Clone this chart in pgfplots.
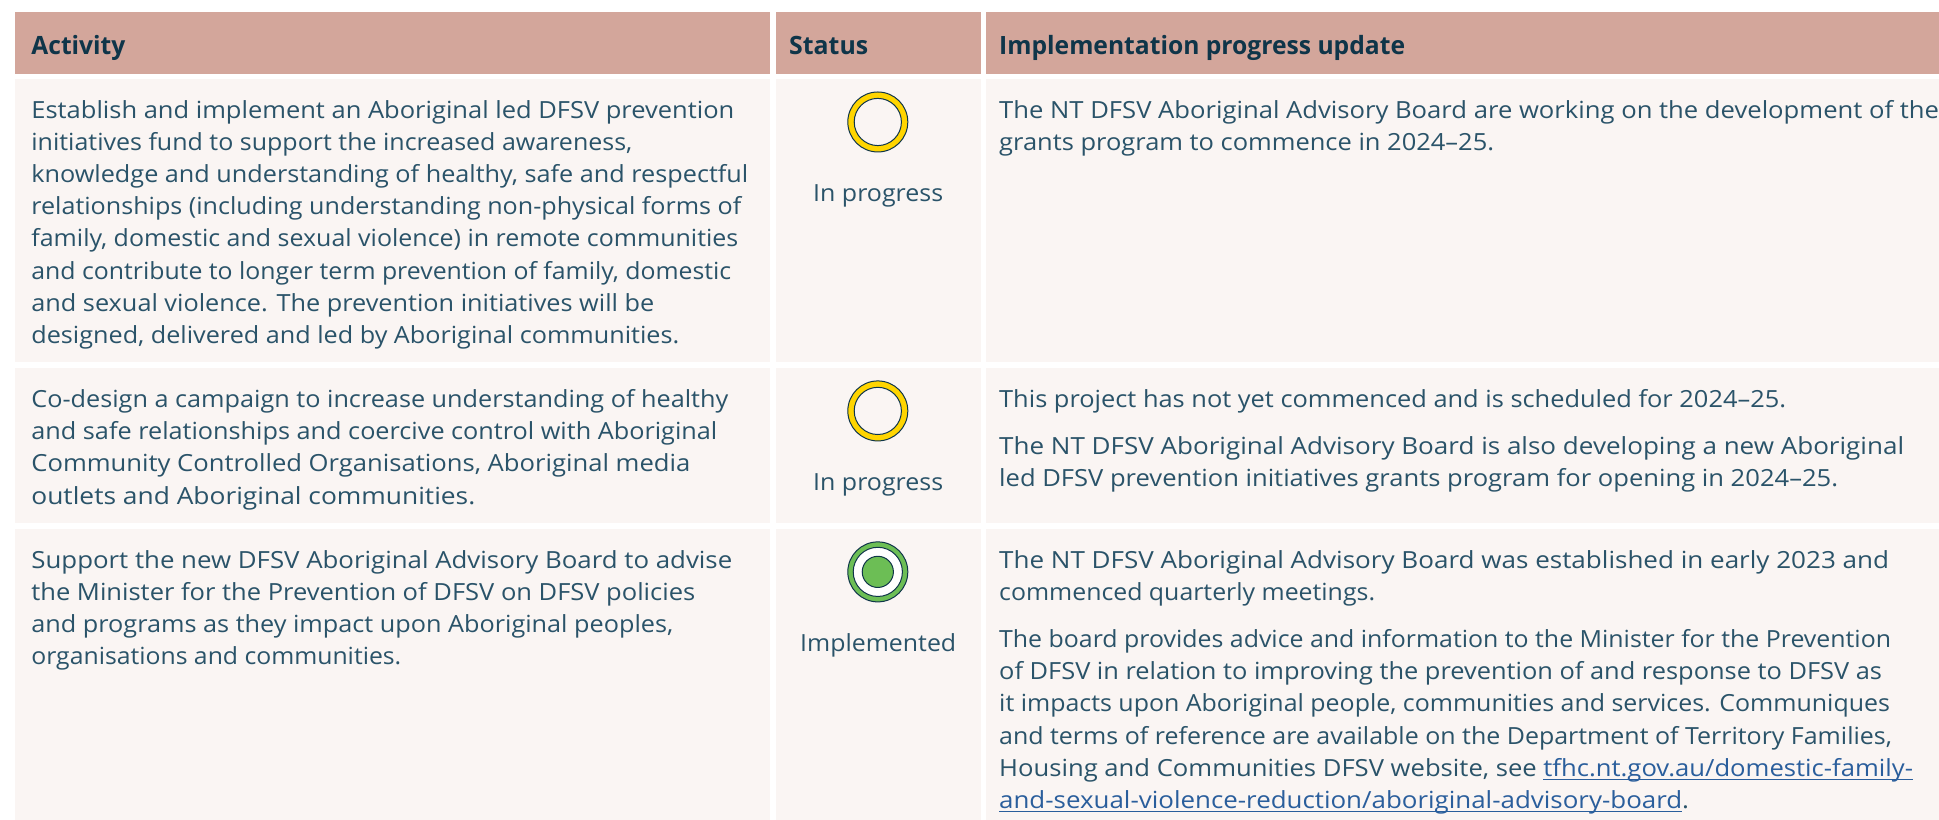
\documentclass[border=0pt]{standalone}
\usepackage{pgfplots}
\pgfplotsset{compat=1.18}
\usepackage{graphicx}
\usepackage{fontspec}
\setmainfont{Open Sans}
\definecolor{hdr}{HTML}{D3A69B}
\definecolor{rowbg}{HTML}{FAF5F3}
\definecolor{txt}{HTML}{2A5369}
\definecolor{hdrtxt}{HTML}{0F3549}
\definecolor{lnk}{HTML}{2A5E9C}
\definecolor{yel}{HTML}{FFD500}
\definecolor{grn}{HTML}{6CBE55}
\newcommand{\tl}[4]{\node[anchor=base west,inner sep=0pt,text=txt,font=\fontsize{11.8}{14}\selectfont] at (axis cs:#1,#2+1) {\resizebox{\dimexpr #3pt/2-#1pt/2\relax}{\height}{#4}};}
\newcommand{\hl}[4]{\node[anchor=base west,inner sep=0pt,text=hdrtxt,font=\fontsize{12.6}{14}\selectfont\bfseries] at (axis cs:#1,#2+1) {\resizebox{\dimexpr #3pt/2-#1pt/2\relax}{\height}{#4}};}
\newcommand{\lk}[1]{\textcolor{lnk}{\underline{\smash{#1}}}}
\newcommand{\cellbox}[5]{\addplot[fill=#5,draw=none,forget plot] coordinates {(#1,#3) (#2,#3) (#2,#4) (#1,#4)} -- cycle;}
\begin{document}
\begin{tikzpicture}
\begin{axis}[scale only axis,width=969.5pt,height=410pt,xmin=0,xmax=1939,ymin=0,ymax=820,y dir=reverse,hide axis,clip=false]
\cellbox{0}{1939}{0}{820}{white}
\cellbox{15}{770}{12}{74}{hdr}
\cellbox{776}{981}{12}{74}{hdr}
\cellbox{986}{1939}{12}{74}{hdr}
\cellbox{15}{770}{79}{362}{rowbg}
\cellbox{776}{981}{79}{362}{rowbg}
\cellbox{986}{1939}{79}{362}{rowbg}
\cellbox{15}{770}{368}{523}{rowbg}
\cellbox{776}{981}{368}{523}{rowbg}
\cellbox{986}{1939}{368}{523}{rowbg}
\cellbox{15}{770}{529}{820}{rowbg}
\cellbox{776}{981}{529}{820}{rowbg}
\cellbox{986}{1939}{529}{820}{rowbg}
% status icons
\addplot[only marks,mark=*,mark size=15pt,mark options={fill=yel,draw=hdrtxt,line width=0.5pt},forget plot] coordinates {(878,122) (878,411)};
\addplot[only marks,mark=*,mark size=11.8pt,mark options={fill=rowbg,draw=hdrtxt,line width=0.5pt},forget plot] coordinates {(878,122) (878,411)};
\addplot[only marks,mark=*,mark size=15pt,mark options={fill=grn,draw=hdrtxt,line width=0.5pt},forget plot] coordinates {(878,572)};
\addplot[only marks,mark=*,mark size=12.3pt,mark options={fill=white,draw=hdrtxt,line width=0.5pt},forget plot] coordinates {(878,572)};
\addplot[only marks,mark=*,mark size=7.8pt,mark options={fill=grn,draw=hdrtxt,line width=0.5pt},forget plot] coordinates {(878,572)};
% headers
\hl{31}{54}{125}{Activity}
\hl{789}{54}{868}{Status}
\hl{999}{54}{1405}{Implementation progress update}
% col 1 row 1
\tl{31}{118}{734}{Establish and implement an Aboriginal led DFSV prevention}
\tl{31}{150}{632}{initiatives fund to support the increased awareness,}
\tl{31}{182}{748}{knowledge and understanding of healthy, safe and respectful}
\tl{31}{214}{741}{relationships (including understanding non-physical forms of}
\tl{31}{246}{738}{family, domestic and sexual violence) in remote communities}
\tl{31}{279}{731}{and contribute to longer term prevention of family, domestic}
\tl{31}{311}{654}{and sexual violence. The prevention initiatives will be}
\tl{31}{343}{679}{designed, delivered and led by Aboriginal communities.}
% col 1 row 2
\tl{31}{407}{728}{Co-design a campaign to increase understanding of healthy}
\tl{31}{439}{717}{and safe relationships and coercive control with Aboriginal}
\tl{31}{471}{690}{Community Controlled Organisations, Aboriginal media}
\tl{31}{504}{475}{outlets and Aboriginal communities.}
% col 1 row 3
\tl{31}{568}{732}{Support the new DFSV Aboriginal Advisory Board to advise}
\tl{31}{600}{695}{the Minister for the Prevention of DFSV on DFSV policies}
\tl{31}{632}{673}{and programs as they impact upon Aboriginal peoples,}
\tl{31}{664}{401}{organisations and communities.}
% status
\tl{813}{201}{943}{In progress}
\tl{813}{490}{943}{In progress}
\tl{800}{651}{956}{Implemented}
% col 3
\tl{999}{118}{1939}{The NT DFSV Aboriginal Advisory Board are working on the development of the}
\tl{999}{150}{1494}{grants program to commence in 2024–25.}
\tl{999}{407}{1786}{This project has not yet commenced and is scheduled for 2024–25.}
\tl{999}{454}{1904}{The NT DFSV Aboriginal Advisory Board is also developing a new Aboriginal}
\tl{999}{486}{1838}{led DFSV prevention initiatives grants program for opening in 2024–25.}
\tl{999}{568}{1889}{The NT DFSV Aboriginal Advisory Board was established in early 2023 and}
\tl{999}{600}{1375}{commenced quarterly meetings.}
\tl{999}{647}{1891}{The board provides advice and information to the Minister for the Prevention}
\tl{999}{679}{1882}{of DFSV in relation to improving the prevention of and response to DFSV as}
\tl{999}{711}{1890}{it impacts upon Aboriginal people, communities and services. Communiques}
\tl{999}{744}{1892}{and terms of reference are available on the Department of Territory Families,}
\tl{999}{776}{1913}{Housing and Communities DFSV website, see \lk{tfhc.nt.gov.au/domestic-family-}}
\tl{999}{808}{1689}{\lk{and-sexual-violence-reduction/aboriginal-advisory-board}.}
\end{axis}
\end{tikzpicture}
\end{document}
